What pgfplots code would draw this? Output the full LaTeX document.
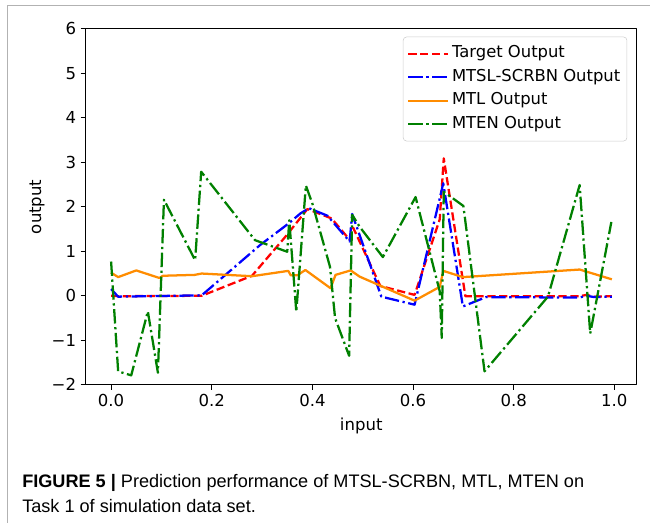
\documentclass[border=0pt]{standalone}
\usepackage{fontspec}
\setmainfont{DejaVu Sans}
\newfontfamily\capfont{Liberation Sans}
\usepackage{pgfplots}
\pgfplotsset{compat=1.18}

\definecolor{mplorange}{HTML}{FF8C00}
\definecolor{mplgreen}{HTML}{008000}

\tikzset{
  mpldash/.style={dash pattern=on 6.2pt off 2.7pt},
  mpldashdot/.style={dash pattern=on 10.8pt off 2.7pt on 1.7pt off 2.7pt},
}

\begin{document}
\begin{tikzpicture}[x=0.75pt,y=0.75pt]
% whole page, in pixels of the reference
\path (0,0) rectangle (650,523);
\draw[gray!60, line width=0.75pt] (8,0) -- (8,517.5) -- (650,517.5);

\begin{axis}[
  at={(64.5pt,103.5pt)}, anchor=south west,
  scale only axis, width=413.25pt, height=267pt,
  xmin=-0.05, xmax=1.044, ymin=-2, ymax=6,
  xtick={0,0.2,0.4,0.6,0.8,1.0}, xticklabels={0.0,0.2,0.4,0.6,0.8,1.0},
  ytick={-2,-1,0,1,2,3,4,5,6}, yticklabels={−2,−1,0,1,2,3,4,5,6},
  xtick pos=bottom, ytick pos=left,
  tick align=outside, major tick length=3.9pt,
  tick style={black, line width=0.75pt},
  axis line style={line width=0.75pt},
  font=\fontsize{12.4}{14.8}\selectfont,
  xlabel={input}, ylabel={output},
  xlabel style={at={(axis description cs:0.5,-0.115)}, anchor=center},
  ylabel style={at={(axis description cs:-0.089,0.5)}, anchor=center},
  legend cell align=left,
  legend image code/.code={\draw[#1] (0pt,0pt) -- (24pt,0pt);
    \path (0pt,0pt) -- (30pt,0pt);},
  legend style={at={(1,1)}, anchor=north east, xshift=-7pt, yshift=-5.8pt,
    draw=black!20, rounded corners=2.5pt, fill=white, fill opacity=0.8,
    text opacity=1, draw opacity=1, font=\fontsize{12.3}{14.8}\selectfont,
    nodes={text height=8.7pt, text depth=2.6pt, inner ysep=3pt},
    row sep=0.3pt, inner ysep=4pt},
  line join=round,
]
\addplot[red, line width=1.7pt, mpldash] coordinates {
  (0,0) (0.015,-0.01) (0.18,0.0) (0.28,0.45) (0.348,1.35) (0.39,1.95)
  (0.438,1.74) (0.474,1.26) (0.481,1.53) (0.535,0.22) (0.603,0.02)
  (0.653,1.72) (0.661,3.09) (0.704,-0.01) (0.93,-0.01) (0.945,0.02)
  (0.96,-0.02) (0.995,-0.01)
};
\addlegendentry{Target Output}
\addplot[blue, line width=1.7pt, mpldashdot] coordinates {
  (0,0.15) (0.014,-0.02) (0.18,0.01) (0.296,1.14) (0.352,1.62) (0.376,1.85)
  (0.393,1.97) (0.43,1.8) (0.474,1.22) (0.479,1.84) (0.537,-0.02)
  (0.603,-0.2) (0.653,2.19) (0.660,2.53) (0.699,-0.24) (0.745,-0.03)
  (0.93,-0.04) (0.945,0.0) (0.96,-0.03) (0.995,-0.02)
};
\addlegendentry{MTSL-SCRBN Output}
\addplot[mplorange, line width=1.7pt] coordinates {
  (0,0.52) (0.014,0.42) (0.05,0.57) (0.096,0.40) (0.103,0.45) (0.166,0.47)
  (0.18,0.5) (0.28,0.44) (0.352,0.56) (0.357,0.46) (0.37,0.46) (0.386,0.58)
  (0.436,0.17) (0.446,0.47) (0.476,0.57) (0.494,0.43) (0.603,-0.11)
  (0.653,0.2) (0.660,0.56) (0.699,0.42) (0.931,0.59) (0.995,0.37)
};
\addlegendentry{MTL Output}
\addplot[mplgreen, line width=1.7pt, mpldashdot] coordinates {
  (0,0.77) (0.014,-1.70) (0.04,-1.79) (0.073,-0.35) (0.093,-1.73)
  (0.105,2.16) (0.167,0.80) (0.179,2.79) (0.286,1.25) (0.350,0.99)
  (0.354,1.70) (0.368,-0.36) (0.387,2.48) (0.40,2.07) (0.435,0.65)
  (0.445,-0.5) (0.473,-1.35) (0.479,1.82) (0.494,1.55) (0.540,0.87)
  (0.605,2.22) (0.653,0.1) (0.657,-0.95) (0.661,2.34) (0.70,2.02)
  (0.742,-1.7) (0.868,-0.02) (0.931,2.49) (0.952,-0.85) (0.994,1.66)
};
\addlegendentry{MTEN Output}
\end{axis}

% caption
\node[anchor=base west, inner sep=0pt, font=\capfont\fontsize{13.6}{19.5}\selectfont]
  at (22,35.5) {\textbf{FIGURE 5 |} Prediction performance of MTSL-SCRBN, MTL, MTEN on};
\node[anchor=base west, inner sep=0pt, font=\capfont\fontsize{13.6}{19.5}\selectfont]
  at (22,10) {Task 1 of simulation data set.};
\end{tikzpicture}
\end{document}
